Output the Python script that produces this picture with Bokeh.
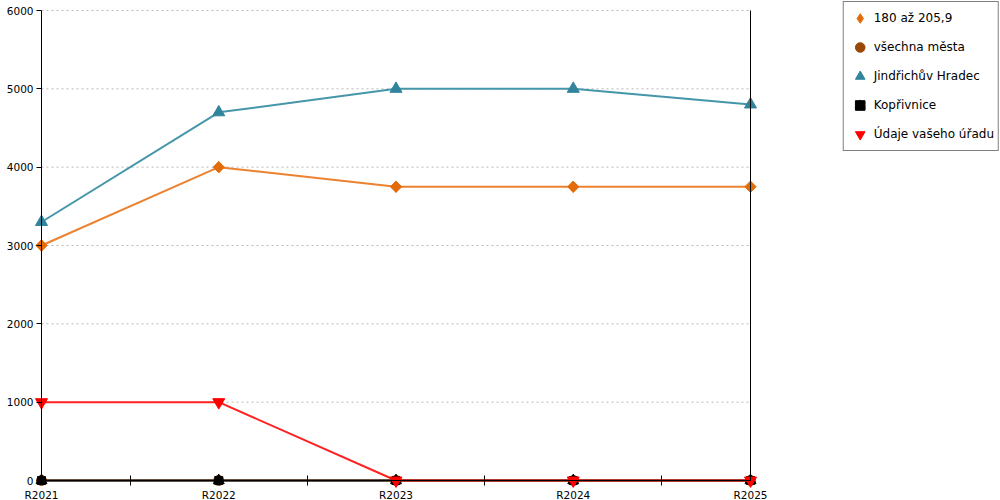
import math
from bokeh.plotting import figure
from bokeh.models import (LinearAxis, FixedTicker, Range1d, Legend, LegendItem)
from bokeh.embed import file_html
from bokeh.resources import INLINE

# ---- data ----
categories = ["R2021", "R2022", "R2023", "R2024", "R2025"]
series_names = ["180 až 205,9", "všechna města", "Jindřichův Hradec", "Kopřivnice", "Údaje vašeho úřadu"]
s_180 = [3000, 4000, 3750, 3750, 3750]
s_vsechna = [0, 0, 0, 0, 0]
s_jh = [3300, 4700, 5000, 5000, 4800]
s_kop = [0, 0, 0, 0, 0]
s_urad = [1000, 1000, 0, 0, 0]
y_ticks = [0, 1000, 2000, 3000, 4000, 5000, 6000]

xs = list(range(len(categories)))
n_last = len(categories) - 1
y_max = y_ticks[-1]

# ---- layout (figure pixels) ----
W, H = 1000, 500
ax_x0, ax_x1 = 41, 750       # x of first/last category
ax_y0, ax_ytop = 480, 10     # y of 0 and of max

sx = (ax_x1 - ax_x0) / n_last
sy = (ax_y0 - ax_ytop) / y_max
x_range = Range1d((0 - ax_x0) / sx, (W - ax_x0) / sx)
y_range = Range1d(-(H - ax_y0) / sy, y_max + (ax_ytop - 0) / sy)

p = figure(width=W, height=H, output_backend="svg", toolbar_location=None,
           x_range=x_range, y_range=y_range, x_axis_type=None, y_axis_type=None,
           min_border=0, min_border_left=0, min_border_right=0,
           min_border_top=0, min_border_bottom=0)
p.outline_line_color = None
p.xgrid.visible = False
p.ygrid.visible = False

FONT = "DejaVu Sans"

# dashed grid lines between first and last category
gy = y_ticks[1:]
p.segment(x0=[0] * len(gy), x1=[n_last] * len(gy), y0=gy, y1=gy,
          line_color="#b8b8b8", line_width=1, line_dash="2 3")

# y axis
yaxis = LinearAxis(fixed_location=0, bounds=(0, y_max),
                   ticker=FixedTicker(ticks=y_ticks, minor_ticks=[]))
yaxis.major_tick_in = 0
yaxis.major_tick_out = 5
yaxis.minor_tick_in = 0
yaxis.minor_tick_out = 0
yaxis.major_label_standoff = 3
yaxis.major_label_text_font = FONT
yaxis.major_label_text_font_size = "10.5px"
yaxis.major_label_text_color = "#000000"
yaxis.axis_line_color = "#000000"
yaxis.major_tick_line_color = "#000000"
p.add_layout(yaxis, "left")

# right border line
raxis = LinearAxis(fixed_location=n_last, bounds=(0, y_max),
                   ticker=FixedTicker(ticks=[], minor_ticks=[]))
raxis.major_label_text_font_size = "0px"
raxis.major_tick_out = 0
raxis.minor_tick_out = 0
raxis.axis_line_color = "#000000"
p.add_layout(raxis, "right")

# x axis
xaxis = LinearAxis(fixed_location=0, bounds=(0, n_last),
                   ticker=FixedTicker(ticks=xs, minor_ticks=[i + 0.5 for i in xs[:-1]]))
xaxis.major_label_overrides = {i: c for i, c in enumerate(categories)}
xaxis.major_tick_in = 0
xaxis.major_tick_out = 0
xaxis.minor_tick_in = 5
xaxis.minor_tick_out = 5
xaxis.minor_tick_line_color = "#000000"
xaxis.major_label_standoff = 3
xaxis.major_label_text_font = FONT
xaxis.major_label_text_font_size = "10.5px"
xaxis.major_label_text_color = "#000000"
xaxis.axis_line_color = "#000000"
p.add_layout(xaxis, "below")

# series
p.line(xs, s_180, line_color="#ec8230", line_width=2)
r1 = p.scatter(xs, s_180, marker="diamond", size=11, color="#e36c0a")  # used for legend glyph
p.scatter(xs, s_180, marker="square", angle=math.pi / 4, size=8, color="#e36c0a")

p.line(xs, s_vsechna, line_color="#984807", line_width=2)
r2 = p.scatter(xs, s_vsechna, marker="circle", size=10, color="#984807")

p.line(xs, s_jh, line_color="#4596a8", line_width=2)
r3 = p.scatter(xs, s_jh, marker="triangle", size=12, color="#31849b")

p.line(xs, s_kop, line_color="#000000", line_width=2)
r4a = p.scatter(xs, s_kop, marker="square", size=8, color="#000000")
r4b = p.scatter(xs, s_kop, marker="triangle", size=11, color="#000000")

p.line(xs, s_urad, line_color="#ff2020", line_width=2)
r5 = p.scatter(xs, s_urad, marker="inverted_triangle", size=12, color="#ff0000")

legend = Legend(items=[
    LegendItem(label=series_names[0], renderers=[r1]),
    LegendItem(label=series_names[1], renderers=[r2]),
    LegendItem(label=series_names[2], renderers=[r3]),
    LegendItem(label=series_names[3], renderers=[r4a, r4b]),
    LegendItem(label=series_names[4], renderers=[r5]),
], location="top_right")
legend.margin = 1
legend.padding = 4
legend.spacing = 5
legend.glyph_width = 24
legend.glyph_height = 24
legend.label_height = 24
legend.label_standoff = 2
legend.label_text_font = FONT
legend.label_text_font_size = "12px"
legend.label_text_color = "#000000"
legend.border_line_color = "#000000"
legend.border_line_width = 1
legend.background_fill_color = "#ffffff"
legend.background_fill_alpha = 1.0
p.add_layout(legend)

open("out.html", "w").write(file_html(p, INLINE))
